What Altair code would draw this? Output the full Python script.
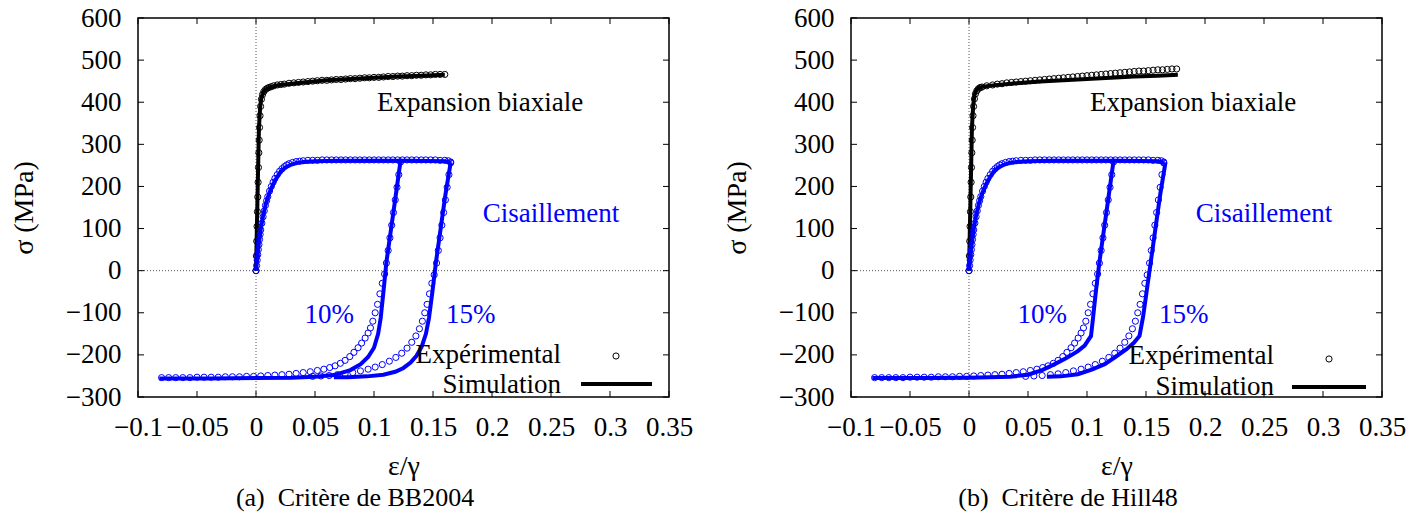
import altair as alt
import pandas as pd

# ---------------- data ----------------
X_TICKS = [-0.1, -0.05, 0.0, 0.05, 0.1, 0.15, 0.2, 0.25, 0.3, 0.35]
Y_TICKS = [-300, -200, -100, 0, 100, 200, 300, 400, 500, 600]

# Biaxial expansion, panel (a) BB2004
BIAX_EXP_A = [(0, 0), (0.0003, 35), (0.0006, 70), (0.0009, 105), (0.0012, 140), (0.0015, 175),
              (0.0018, 210), (0.0021, 245), (0.0024, 280), (0.0027, 310), (0.003, 340), (0.0034, 368),
              (0.0039, 390), (0.0046, 407), (0.0055, 418), (0.0066, 425), (0.008, 430), (0.0095, 433),
              (0.011, 435), (0.013, 437), (0.015, 439), (0.018, 441), (0.021, 442), (0.024, 443),
              (0.028, 445), (0.032, 446), (0.036, 447), (0.040, 448), (0.044, 449), (0.048, 450),
              (0.052, 451), (0.056, 452), (0.060, 452), (0.064, 453), (0.068, 454), (0.072, 454),
              (0.076, 455), (0.080, 456), (0.084, 456), (0.088, 457), (0.092, 458), (0.096, 458),
              (0.100, 459), (0.104, 459), (0.108, 460), (0.112, 461), (0.116, 461), (0.120, 462),
              (0.124, 462), (0.128, 463), (0.132, 463), (0.136, 464), (0.140, 464), (0.144, 465),
              (0.148, 465), (0.152, 466), (0.156, 466), (0.160, 466)]
BIAX_SIM_A = [(0, 0), (0.0025, 340), (0.0035, 388), (0.0045, 410), (0.006, 423), (0.008, 430),
              (0.012, 436), (0.02, 441), (0.04, 447), (0.06, 452), (0.08, 455), (0.1, 458),
              (0.12, 461), (0.14, 463), (0.16, 465)]

# Biaxial expansion, panel (b) Hill48
BIAX_EXP_B = [(0, 0), (0.0003, 35), (0.0006, 70), (0.0009, 105), (0.0012, 140), (0.0015, 175),
              (0.0018, 210), (0.0021, 245), (0.0024, 280), (0.0027, 310), (0.003, 340), (0.0034, 368),
              (0.0039, 390), (0.0046, 408), (0.0055, 420), (0.0066, 427), (0.008, 432), (0.0095, 435),
              (0.011, 436), (0.015, 439), (0.020, 441), (0.024, 443), (0.028, 444), (0.032, 446),
              (0.036, 447), (0.040, 448), (0.044, 449), (0.048, 450), (0.052, 451), (0.056, 452),
              (0.060, 453), (0.064, 454), (0.068, 455), (0.072, 456), (0.076, 457), (0.080, 458),
              (0.084, 459), (0.088, 460), (0.092, 461), (0.096, 462), (0.100, 463), (0.104, 464),
              (0.108, 465), (0.112, 466), (0.116, 467), (0.120, 468), (0.124, 469), (0.128, 470),
              (0.132, 471), (0.136, 472), (0.140, 473), (0.144, 474), (0.148, 474), (0.152, 475),
              (0.156, 476), (0.160, 477), (0.164, 477), (0.168, 478), (0.172, 479), (0.176, 479)]
BIAX_SIM_B = [(0, 0), (0.0025, 340), (0.0035, 390), (0.0045, 415), (0.006, 428), (0.008, 434),
              (0.012, 437), (0.02, 440), (0.04, 445), (0.06, 449), (0.08, 452), (0.1, 455),
              (0.12, 458), (0.14, 461), (0.16, 463), (0.177, 465)]

# Shear, experimental (same in both panels)
SHEAR_LOAD_EXP = [(0, 0), (0.0005, 12), (0.001, 25), (0.0015, 38), (0.002, 50), (0.0025, 62),
                  (0.003, 74), (0.0035, 86), (0.004, 97), (0.005, 113), (0.006, 128), (0.007, 142),
                  (0.008, 155), (0.009, 166), (0.010, 176), (0.0115, 189), (0.013, 200), (0.0145, 210),
                  (0.016, 219), (0.018, 228), (0.020, 236), (0.022, 242), (0.024, 247), (0.026, 251),
                  (0.028, 254), (0.031, 257), (0.034, 259), (0.037, 260), (0.040, 261), (0.044, 262),
                  (0.048, 262), (0.052, 262), (0.056, 263), (0.060, 263), (0.064, 263), (0.068, 263),
                  (0.072, 263), (0.076, 263), (0.080, 263), (0.084, 263), (0.088, 263), (0.092, 263),
                  (0.096, 263), (0.100, 263), (0.104, 263), (0.108, 263), (0.112, 263), (0.116, 263),
                  (0.120, 263), (0.124, 263), (0.128, 263), (0.132, 263), (0.136, 263), (0.140, 263),
                  (0.144, 263), (0.148, 263), (0.152, 263), (0.156, 262), (0.160, 262), (0.163, 261),
                  (0.165, 258)]
SHEAR_REV10_EXP = [(0.1225, 258), (0.121, 228), (0.1195, 198), (0.118, 168), (0.1165, 138),
                   (0.115, 108), (0.1135, 78), (0.112, 48), (0.1105, 18), (0.109, -8), (0.107, -30),
                   (0.105, -55), (0.103, -80), (0.101, -100), (0.099, -120), (0.097, -136),
                   (0.095, -148), (0.0925, -160), (0.0895, -172), (0.0865, -183), (0.083, -194),
                   (0.0795, -204), (0.0755, -213), (0.0715, -220), (0.067, -226), (0.0625, -230),
                   (0.0575, -234), (0.052, -237), (0.046, -240), (0.040, -242), (0.034, -244),
                   (0.028, -246), (0.022, -247), (0.016, -248), (0.010, -249), (0.004, -250),
                   (-0.002, -251), (-0.008, -251), (-0.014, -252), (-0.020, -252), (-0.026, -252),
                   (-0.032, -253), (-0.038, -253), (-0.044, -253), (-0.050, -253), (-0.056, -254),
                   (-0.062, -254), (-0.068, -254), (-0.074, -254), (-0.080, -254)]
SHEAR_REV15_EXP = [(0.165, 256), (0.1635, 228), (0.162, 198), (0.1605, 168), (0.159, 138),
                   (0.1575, 108), (0.156, 78), (0.1545, 48), (0.153, 18), (0.151, -10), (0.149, -30),
                   (0.147, -55), (0.145, -80), (0.143, -100), (0.141, -120), (0.1385, -138),
                   (0.1355, -155), (0.132, -170), (0.128, -184), (0.1235, -196), (0.1185, -206),
                   (0.113, -215), (0.107, -223), (0.101, -229), (0.095, -234), (0.0885, -238),
                   (0.082, -242), (0.0755, -245), (0.069, -247), (0.062, -249), (0.055, -250),
                   (0.048, -251)]

# Shear, simulation
SHEAR_LOAD_SIM = [(0, 0), (0.002, 55), (0.004, 98), (0.006, 130), (0.008, 155), (0.010, 174),
                  (0.0125, 193), (0.015, 208), (0.018, 223), (0.021, 235), (0.025, 245), (0.03, 252),
                  (0.035, 256), (0.04, 258), (0.05, 260), (0.07, 261), (0.1, 261), (0.13, 261),
                  (0.16, 260), (0.165, 257)]
REV10_SIM_A = [(0.1225, 261), (0.1185, 180), (0.1145, 100), (0.1105, 20), (0.108, -50),
               (0.1057, -112), (0.1035, -150), (0.1, -183), (0.095, -205), (0.0887, -222),
               (0.08, -236), (0.066, -248), (0.05, -252), (0.03, -254), (0.0, -255), (-0.04, -256),
               (-0.082, -256)]
REV15_SIM_A = [(0.165, 257), (0.1605, 180), (0.1565, 100), (0.1525, 20), (0.1495, -50),
               (0.1466, -112), (0.144, -150), (0.1405, -180), (0.136, -202), (0.131, -218),
               (0.125, -231), (0.118, -240), (0.108, -247), (0.094, -251), (0.078, -253), (0.066, -253)]
REV10_SIM_B = [(0.1225, 261), (0.1185, 180), (0.1145, 100), (0.1105, 20), (0.1075, -50),
               (0.1052, -110), (0.1034, -155), (0.098, -178), (0.0922, -191), (0.083, -207),
               (0.0726, -222), (0.062, -236), (0.050, -247), (0.035, -252), (0.0, -254),
               (-0.04, -255), (-0.082, -255)]
REV15_SIM_B = [(0.1665, 257), (0.162, 180), (0.158, 100), (0.154, 20), (0.1505, -50),
               (0.1475, -110), (0.1445, -155), (0.1395, -172), (0.1332, -187), (0.124, -205),
               (0.115, -222), (0.104, -235), (0.0922, -246), (0.078, -251), (0.066, -252)]

# annotations (text, x, y, colour)
ANNOT_TEXT = ["Expansion biaxiale", "Cisaillement", "10%", "15%"]
ANNOT_X = [0.19, 0.25, 0.062, 0.182]
ANNOT_Y = [379, 115, -124, -124]
ANNOT_COLOR = ["#000000", "#0000ff", "#0000ff", "#0000ff"]

LEGEND_LABELS = ["Expérimental", "Simulation"]
CAPTIONS = ["(a)\u00a0 Critère de BB2004", "(b)\u00a0 Critère de Hill48"]
X_TITLE = "ε/γ"
Y_TITLE = "σ (MPa)"

# ---------------- styling ----------------
FONT = "Liberation Serif"
BLUE = "#0000ff"
BLACK = "#000000"
W, H = 531, 379


def frame(points):
    return pd.DataFrame({"x": [p[0] for p in points],
                         "y": [p[1] for p in points],
                         "i": list(range(len(points)))})


xs = alt.Scale(domain=[-0.1, 0.35], nice=False, zero=False)
ys = alt.Scale(domain=[-300, 600], nice=False, zero=False)
x_axis = alt.Axis(values=X_TICKS, format="~g", title=X_TITLE, grid=False, ticks=False,
                  domain=False, labelFlush=False, labelOverlap=False, labelPadding=17,
                  titlePadding=12)
y_axis = alt.Axis(values=Y_TICKS, format="d", title=Y_TITLE, grid=False, ticks=False,
                  domain=False, labelFlush=False, labelOverlap=False, labelPadding=17,
                  titlePadding=27)
X = alt.X("x:Q", scale=xs, axis=x_axis)
Y = alt.Y("y:Q", scale=ys, axis=y_axis)


def panel(biax_exp, biax_sim, rev10_sim, rev15_sim, caption, leg):
    zero_v = alt.Chart(pd.DataFrame({"x": [0.0]})).mark_rule(
        color="#555555", strokeWidth=1, strokeDash=[1, 2]).encode(
        x=X, y=alt.value(0), y2=alt.value(H))
    zero_h = alt.Chart(pd.DataFrame({"y": [0.0]})).mark_rule(
        color="#555555", strokeWidth=1, strokeDash=[1, 2]).encode(
        y=Y, x=alt.value(0), x2=alt.value(W))
    xt = pd.DataFrame({"x": X_TICKS})
    yt = pd.DataFrame({"y": Y_TICKS})
    tb = alt.Chart(xt).mark_rule(color=BLACK, strokeWidth=1).encode(
        x=X, y=alt.value(H), y2=alt.value(H - 6))
    tt = alt.Chart(xt).mark_rule(color=BLACK, strokeWidth=1).encode(
        x=X, y=alt.value(0), y2=alt.value(6))
    tl = alt.Chart(yt).mark_rule(color=BLACK, strokeWidth=1).encode(
        y=Y, x=alt.value(0), x2=alt.value(6))
    tr = alt.Chart(yt).mark_rule(color=BLACK, strokeWidth=1).encode(
        y=Y, x=alt.value(W), x2=alt.value(W - 6))

    def pts(data, color):
        return alt.Chart(frame(data)).mark_point(
            shape="circle", filled=False, size=38, strokeWidth=1, color=color, opacity=1
        ).encode(x=X, y=Y)

    def line(data, color):
        return alt.Chart(frame(data)).mark_line(color=color, strokeWidth=4).encode(
            x=X, y=Y, order="i:Q")

    annot = alt.Chart(pd.DataFrame({"t": ANNOT_TEXT, "x": ANNOT_X, "y": ANNOT_Y,
                                    "c": ANNOT_COLOR})).mark_text(
        font=FONT, fontSize=27, align="center", baseline="alphabetic").encode(
        x=X, y=Y, text="t:N", color=alt.Color("c:N", scale=None))

    lx, ly1, ly2, mx, my, lx1, lx2, lyl = leg
    leg1 = alt.Chart(pd.DataFrame({"t": [LEGEND_LABELS[0]]})).mark_text(
        font=FONT, fontSize=27, align="right", baseline="alphabetic", color=BLACK).encode(
        x=alt.value(lx), y=alt.value(ly1), text="t:N")
    leg2 = alt.Chart(pd.DataFrame({"t": [LEGEND_LABELS[1]]})).mark_text(
        font=FONT, fontSize=27, align="right", baseline="alphabetic", color=BLACK).encode(
        x=alt.value(lx), y=alt.value(ly2), text="t:N")
    legm = alt.Chart(pd.DataFrame({"t": [LEGEND_LABELS[0]]})).mark_point(
        shape="circle", filled=False, size=38, strokeWidth=1, color=BLACK, opacity=1).encode(
        x=alt.value(mx), y=alt.value(my))
    legl = alt.Chart(pd.DataFrame({"t": [LEGEND_LABELS[1]]})).mark_rule(
        color=BLACK, strokeWidth=4).encode(
        x=alt.value(lx1), x2=alt.value(lx2), y=alt.value(lyl))

    cap = alt.Chart(pd.DataFrame({"t": [caption]})).mark_text(
        font=FONT, fontSize=26, align="center", baseline="alphabetic", color=BLACK).encode(
        x=alt.value(217), y=alt.value(488), text="t:N")

    return alt.layer(
        zero_v, zero_h, tb, tt, tl, tr,
        pts(biax_exp, BLACK), line(biax_sim, BLACK),
        pts(SHEAR_LOAD_EXP, BLUE), pts(SHEAR_REV10_EXP, BLUE), pts(SHEAR_REV15_EXP, BLUE),
        line(SHEAR_LOAD_SIM, BLUE), line(rev10_sim, BLUE), line(rev15_sim, BLUE),
        annot, leg1, leg2, legm, legl, cap
    ).properties(width=W, height=H)


left = panel(BIAX_EXP_A, BIAX_SIM_A, REV10_SIM_A, REV15_SIM_A, CAPTIONS[0],
             (423, 345, 375, 478, 338, 443, 514, 366))
right = panel(BIAX_EXP_B, BIAX_SIM_B, REV10_SIM_B, REV15_SIM_B, CAPTIONS[1],
              (423, 346, 377, 478, 341, 441, 515, 369))

chart = alt.hconcat(left, right, spacing=182, bounds="flush").properties(
    padding={"left": 9, "top": 3, "right": 5, "bottom": 5}
).configure_view(
    stroke=BLACK, strokeWidth=1.5
).configure_axis(
    labelFont=FONT, titleFont=FONT, labelFontSize=27, titleFontSize=28,
    labelColor=BLACK, titleColor=BLACK, titleFontWeight="normal"
)

chart.save("out.html", embed_options={"renderer": "svg", "actions": False})
